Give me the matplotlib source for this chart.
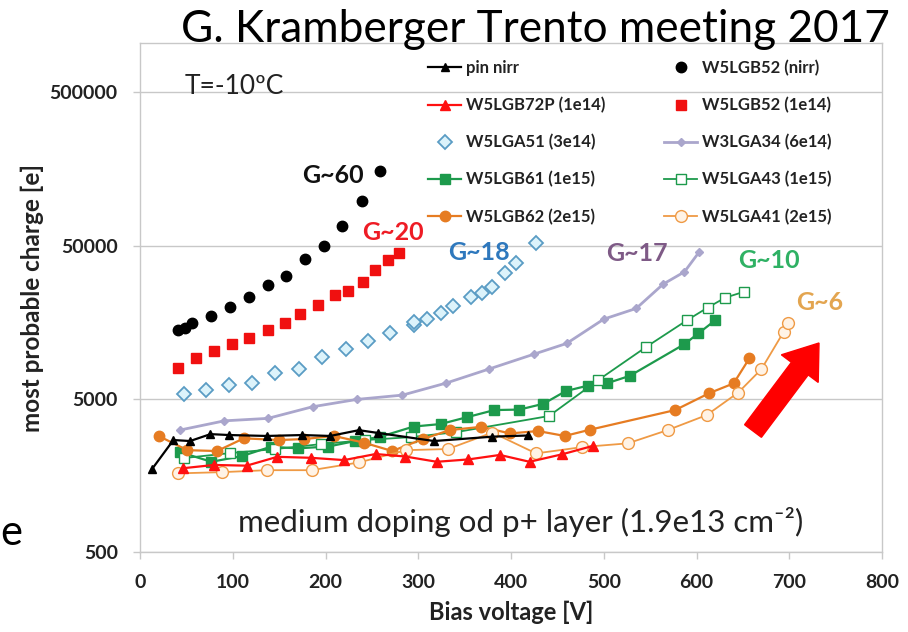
import matplotlib
matplotlib.use('Agg')
import matplotlib.pyplot as plt
from matplotlib.patches import FancyArrow
from matplotlib.transforms import IdentityTransform
import matplotlib.ticker as mticker

# ---------------- data ----------------
pin_v = [13, 36, 54, 76, 96, 137, 175, 205, 236, 257, 317, 380, 418]
pin_q = [1740, 2690, 2650, 2940, 2900, 2860, 2900, 2860, 3120, 2990, 2650, 2830, 2880]

b52n_v = [41, 48, 56, 77, 97, 117, 138, 157, 178, 198, 218, 239, 259]
b52n_q = [14000, 14500, 15700, 17300, 19900, 23100, 27600, 31700, 40800, 49800, 67000, 97900, 152800]

b72p_v = [46, 80, 115, 148, 184, 220, 254, 286, 320, 354, 388, 420, 455, 488]
b72p_q = [1760, 1850, 1830, 2090, 2060, 1990, 2180, 2100, 1940, 2010, 2150, 1940, 2170, 2460]

b52_v = [41, 60, 80, 99, 118, 138, 156, 173, 192, 210, 224, 240, 253, 267, 279]
b52_q = [7890, 9260, 10240, 11320, 12390, 13970, 15590, 17770, 20330, 23640, 25100, 28860,
         34570, 40180, 44780]

a51_v = [47, 71, 96, 121, 146, 171, 196, 222, 246, 270, 295, 295, 309, 324, 338, 357, 369,
         380, 393, 405, 427]
a51_q = [5370, 5740, 6170, 6310, 7390, 7780, 9310, 10600, 11900, 13480, 15130, 15890, 16550,
         18110, 20280, 23140, 24660, 26980, 33270, 38660, 51600]

a34_v = [43, 91, 138, 186, 234, 283, 330, 376, 425, 460, 500, 535, 564, 587, 603]
a34_q = [3125, 3590, 3725, 4435, 4955, 5285, 6330, 7810, 9790, 11490, 16550, 19440, 28000,
         33690, 45500]

b61_v = [43, 77, 110, 141, 170, 203, 232, 259, 295, 324, 353, 382, 409, 435, 459, 483, 503,
         528, 587, 602, 620]
b61_q = [2245, 1940, 2114, 2432, 2374, 2439, 2650, 2826, 3294, 3420, 3798, 4220, 4252, 4638,
         5613, 6097, 6302, 7054, 11370, 13360, 16230]

a43_v = [47, 97, 146, 195, 243, 292, 341, 441, 494, 546, 590, 612, 631, 651]
a43_q = [2050, 2210, 2350, 2530, 2690, 2810, 3030, 3860, 6620, 10920, 16310, 19680, 22860, 24950]

b62_v = [20, 51, 83, 112, 150, 177, 209, 241, 272, 305, 334, 368, 399, 429, 458, 485, 577,
         614, 640, 657]
b62_q = [2860, 2310, 2280, 2760, 2690, 2730, 2860, 2590, 2280, 2730, 3125, 3280, 2970, 3080,
         2860, 3140, 4220, 5450, 6300, 9180]

a41_v = [41, 88, 137, 185, 236, 287, 332, 380, 427, 477, 526, 569, 611, 645, 670, 694, 699]
a41_q = [1630, 1660, 1710, 1710, 1920, 2310, 2350, 3010, 2200, 2420, 2560, 3125, 3915, 5490,
         7810, 13680, 15510]

x_ticks = [0, 100, 200, 300, 400, 500, 600, 700, 800]
y_ticks = [500, 5000, 50000, 500000]

# ---------------- figure ----------------
W, H = 908, 632
plt.rcParams['font.family'] = ['Lato', 'DejaVu Sans']
fig = plt.figure(figsize=(W / 100, H / 100), dpi=100)
fig.patch.set_facecolor('white')
ax = fig.add_axes([140 / W, (H - 552) / H, (882 - 140) / W, (552 - 43) / H])

def px(x, y):
    return x / W, 1 - y / H

GREEN = '#1d9a4c'
ORANGE = '#e67c22'
ORANGE2 = '#ef9a45'

ax.plot(pin_v, pin_q, color='black', marker='^', ms=6, lw=1.6, label='pin nirr', zorder=5)
ax.plot(b52n_v, b52n_q, color='black', marker='o', ms=7.5, lw=0, label='W5LGB52 (nirr)', zorder=6)
ax.plot(b72p_v, b72p_q, color='#ff1010', marker='^', ms=7.5, lw=1.6, label='W5LGB72P (1e14)', zorder=5)
ax.plot(b52_v, b52_q, color='#f01010', marker='s', ms=6.5, lw=0, label='W5LGB52 (1e14)', zorder=6)
ax.plot(a51_v, a51_q, color='#5a9cc4', marker='D', ms=7.5, lw=0, mfc='#dcf3fb', mec='#5a9cc4',
        mew=1.3, label='W5LGA51 (3e14)', zorder=6)
ax.plot(a34_v, a34_q, color='#aaa6cc', marker='D', ms=4.5, lw=2.0, label='W3LGA34 (6e14)', zorder=4)
ax.plot(b61_v, b61_q, color=GREEN, marker='s', ms=6.5, lw=1.6, label='W5LGB61 (1e15)', zorder=4)
ax.plot(a43_v, a43_q, color=GREEN, marker='s', ms=7.5, lw=1.3, mfc='white', mec=GREEN,
        label='W5LGA43 (1e15)', zorder=4)
ax.plot(b62_v, b62_q, color=ORANGE, marker='o', ms=7.5, lw=1.6, label='W5LGB62 (2e15)', zorder=4)
ax.plot(a41_v, a41_q, color=ORANGE2, marker='o', ms=8.5, lw=1.3, mfc='#fff3e6', mec=ORANGE2,
        label='W5LGA41 (2e15)', zorder=4)

ax.set_yscale('log')
ax.set_xlim(0, 800)
ax.set_ylim(500, 1.05e6)
ax.set_xticks(x_ticks)
ax.set_yticks(y_ticks)
ax.yaxis.set_major_formatter(mticker.FuncFormatter(lambda v, p: f'{int(round(v))}'))
ax.yaxis.set_minor_locator(mticker.NullLocator())
ax.grid(axis='y', color='#c8c8c8', lw=1)
ax.set_axisbelow(True)
for s in ax.spines.values():
    s.set_color('#c8c8c8')
    s.set_linewidth(1)
ax.tick_params(axis='both', colors='#c8c8c8', length=5, width=1, labelcolor='#222222',
               labelsize=14)
ax.tick_params(axis='y', pad=11)
ax.tick_params(axis='x', pad=11)
for lab in ax.get_xticklabels() + ax.get_yticklabels():
    lab.set_fontweight('bold')
ax.set_xlabel('Bias voltage [V]', fontsize=17, fontweight='bold', color='#222222', labelpad=7)
ax.set_ylabel('most probable charge [e]', fontsize=17.5, fontweight='bold', color='#222222', labelpad=4)

# legend (Excel-like order: rows of pairs)
h, l = ax.get_legend_handles_labels()
order = [0, 2, 4, 6, 8, 1, 3, 5, 7, 9]
leg = ax.legend([h[i] for i in order], [l[i] for i in order], ncol=2, frameon=False,
                loc='upper left', bbox_to_anchor=px(428, 60), bbox_transform=fig.transFigure,
                prop={'weight': 'bold', 'size': 12}, handlelength=2.0, handletextpad=0.3,
                labelspacing=1.25, columnspacing=3.5, borderpad=0, borderaxespad=0)
for t in leg.get_texts():
    t.set_color('#222222')

# annotations
fig.text(*px(185, 86), 'T=-10ºC', fontsize=19, va='center', ha='left', color='#222222')
fig.text(*px(333, 176), 'G~60', fontsize=18, fontweight='bold', color='#111111', ha='center', va='center')
fig.text(*px(393, 233), 'G~20', fontsize=18, fontweight='bold', color='#ee1c25', ha='center', va='center')
fig.text(*px(479, 253), 'G~18', fontsize=18, fontweight='bold', color='#2e78bd', ha='center', va='center')
fig.text(*px(637, 254), 'G~17', fontsize=18, fontweight='bold', color='#7e5a86', ha='center', va='center')
fig.text(*px(769, 261), 'G~10', fontsize=18, fontweight='bold', color='#2fb164', ha='center', va='center')
fig.text(*px(820, 302), 'G~6', fontsize=18, fontweight='bold', color='#e3a550', ha='center', va='center')
fig.text(*px(521, 522), 'medium doping od p+ layer (1.9e13 cm⁻²)', fontsize=22.5, color='#222222',
         ha='center', va='center')

# title overlapping the slide
fig.text(*px(890, 42), 'G. Kramberger Trento meeting 2017', fontsize=31.8, color='black',
         ha='right', va='baseline')
# clipped slide text at the left edge
fig.text(*px(22, 545), 'e', fontsize=30, color='black', ha='right', va='baseline')

# big red arrow
arr = FancyArrow(753, H - 431, 66, 88, width=21, head_width=46, head_length=32,
                 length_includes_head=True, color='#ff0000', transform=IdentityTransform())
fig.add_artist(arr)

fig.savefig('out.png', dpi=100)
